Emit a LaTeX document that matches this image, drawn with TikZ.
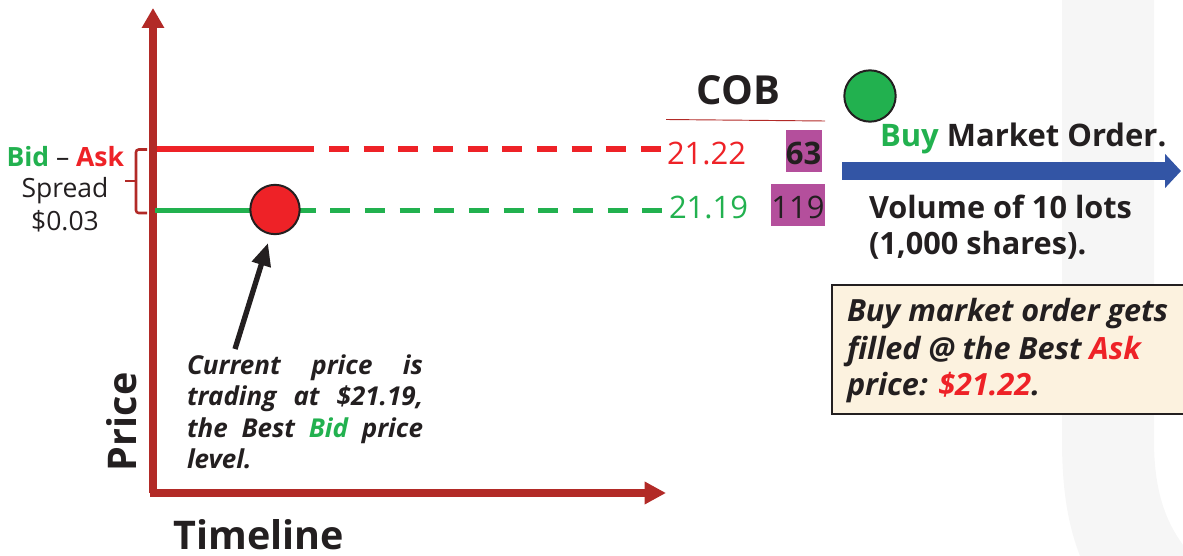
\documentclass[tikz,border=0pt]{standalone}
\usepackage{fontspec}
\setmainfont{Open Sans}
\usetikzlibrary{arrows.meta}
\definecolor{axisred}{HTML}{B22A27}
\definecolor{askred}{HTML}{EE2227}
\definecolor{bidgreen}{HTML}{22B14F}
\definecolor{ink}{HTML}{231F20}
\definecolor{navy}{HTML}{3355A5}
\definecolor{plum}{HTML}{B44F9C}
\definecolor{cream}{HTML}{FCF2DF}
\definecolor{band}{HTML}{F6F6F6}
\newcommand{\px}[1]{\fontsize{\dimexpr#1pt*3/4\relax}{\dimexpr#1pt*9/8\relax}\selectfont}
\tikzset{
  x=0.75pt,y=-0.75pt,
  lab/.style={inner sep=0pt,outer sep=0pt,text=ink,anchor=base west},
  axisline/.style={draw=axisred,line width=5.8pt,-{Triangle[length=15pt,width=16pt]}},
  askline/.style={draw=askred,line width=4.3pt},
  bidline/.style={draw=bidgreen,line width=4.3pt},
  dashy/.style={dash pattern=on 15pt off 11pt},
  dot/.style={circle,draw=ink,line width=1.5pt,minimum size=37pt,inner sep=0pt},
}
\begin{document}
\begin{tikzpicture}
\useasboundingbox (0,0) rectangle (1183,556);
\fill[band] (1062,0) -- (1154,0) -- (1154,440) .. controls (1154,490) and (1165,520) .. (1183,545) -- (1183,556) -- (1080,556) .. controls (1068,525) and (1062,490) .. (1062,440) -- cycle;

% axes
\coordinate (origin) at (153,493);
\coordinate (ytop) at (153,8);
\coordinate (xend) at (666,493);
\draw[axisline] (origin) -- (ytop);
\draw[axisline,-{Triangle[length=16pt,width=16pt]}] (150,493) -- (xend);

% levels
\coordinate (a0) at (157,149);
\coordinate (a1) at (314,149);
\coordinate (a2) at (329,149);
\coordinate (a3) at (661,149);
\coordinate (b0) at (155,210.5);
\coordinate (b1) at (315.6,210.5);
\coordinate (b2) at (330.3,210.5);
\coordinate (b3) at (662,210.5);
\draw[askline] (a0) -- (a1);
\draw[askline,dashy] (a2) -- (a3);
\draw[bidline] (b0) -- (b1);
\draw[bidline,dashy] (b2) -- (b3);

% price dot
\node[dot,fill=askred] (price) at (275,209.5) {};
\node[dot,fill=bidgreen,minimum size=38.5pt] (buydot) at (870,96) {};

% brace
\draw[axisred,line width=1.9pt,rounded corners=2pt] (147,149.5) -- (136,149.5) -- (136,213) -- (147,213);
\draw[axisred,line width=2.2pt] (125,181) -- (136,181);

% left labels
\node[lab] at (6.5,167) {\px{26.5}\textbf{\textcolor{bidgreen}{Bid}} – \textbf{\textcolor{askred}{Ask}}};
\node[lab,anchor=base] at (65,198) {\px{26.5}Spread};
\node[lab,anchor=base] at (65,231) {\px{26.5}\$0.03};

% axis labels
\node[lab,rotate=90] at (136,471) {\px{39.5}\textbf{Price}};
\node[lab] at (173.5,549) {\px{39.5}\textbf{Timeline}};

% note
\node[lab,anchor=north west,align=left,font=\fontsize{19.5pt}{23.4pt}\selectfont\bfseries\itshape] (note) at (187,355) {%
\makebox[177pt][s]{Current price is}\\
\makebox[177pt][s]{trading at \$21.19,}\\
\makebox[177pt][s]{the Best \textcolor{bidgreen}{Bid} price}\\
level.};
\coordinate (notetip) at (235,349);
\draw[draw=ink,line width=4pt,-{Triangle[length=17pt,width=14pt]}] (notetip) -- (268,243);

% COB
\node[lab,anchor=base] at (738.5,105) {\px{40}\textbf{COB}};
\coordinate (cobl) at (666,119.5);
\coordinate (cobr) at (825,121);
\draw[axisred,line width=0.7pt] (cobl) -- (cobr);
\node[lab,text=askred] at (667,165) {\px{31}21.22};
\node[lab,text=bidgreen] at (669,219) {\px{31}21.19};
\path[fill=plum] (785.5,130) rectangle (821.5,172);
\path[fill=plum] (771,184) rectangle (825,226);
\node[lab,anchor=base] at (803.5,165) {\px{31}\textbf{63}};
\node[lab,anchor=base] at (798,219) {\px{31}119};

% order
\node[lab] at (880,147) {\px{31}\textbf{\textcolor{bidgreen}{Buy} Market Order.}};
\coordinate (ol) at (842,171);
\coordinate (or) at (1181,171);
\draw[navy,line width=13.2pt,-{Triangle[length=12pt,width=25pt]}] (ol) -- (or);
\node[lab] at (869,219) {\px{30.7}\textbf{Volume of 10 lots}};
\node[lab] at (869,255) {\px{30.7}\textbf{(1,000 shares).}};

% fill box
\path[fill=cream,draw=ink,line width=1.5pt] (831.5,285.5) rectangle (1190,413.5);
\node[lab] at (847,322) {\px{30.6}\bfseries\itshape Buy market order gets};
\node[lab] at (847,359) {\px{30.6}\bfseries\itshape filled @ the Best \textcolor{askred}{Ask}};
\node[lab] at (847,396) {\px{30.6}\bfseries\itshape price: \textcolor{askred}{\$21.22}.};
\end{tikzpicture}
\end{document}
